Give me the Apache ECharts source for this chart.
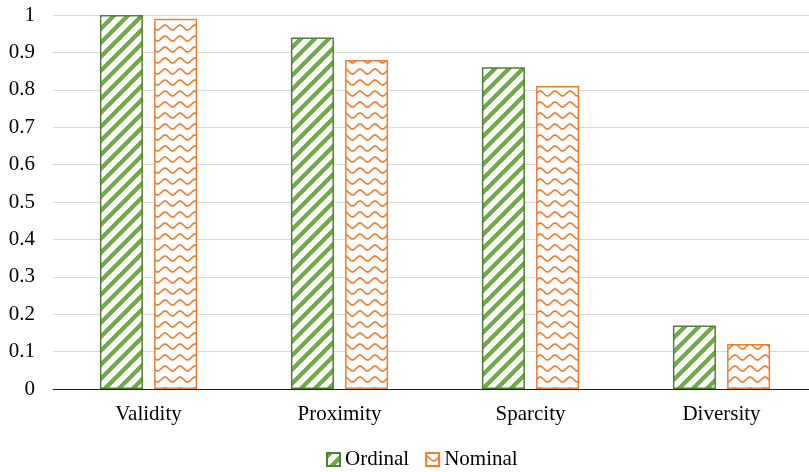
<!DOCTYPE html>
<html>
<head>
<meta charset="utf-8">
<script src="https://cdn.jsdelivr.net/npm/echarts@6/dist/echarts.min.js"></script>
<style>
  html, body { margin: 0; padding: 0; background: #fff; overflow: hidden; }
  #wrap { width: 809px; height: 472px; overflow: hidden; }
  #chart { width: 817px; height: 472px; }
</style>
</head>
<body>
<div id="wrap"><div id="chart"></div></div>
<script>
// Evaluation metrics per encoding type
const categories = ['Validity', 'Proximity', 'Sparcity', 'Diversity'];
const ordinalValues = [1.0, 0.94, 0.86, 0.17];
const nominalValues = [0.99, 0.88, 0.81, 0.12];
const yTicks = [0, 0.1, 0.2, 0.3, 0.4, 0.5, 0.6, 0.7, 0.8, 0.9, 1];

// Upward diagonal stripe fill
function stripeTile() {
  const s = 14;
  const c = document.createElement('canvas');
  c.width = s; c.height = s;
  const g = c.getContext('2d');
  g.fillStyle = '#ffffff';
  g.fillRect(0, 0, s, s);
  g.fillStyle = '#70AD47';
  for (let y = 0; y < s; y++) {
    for (let x = 0; x < s; x++) {
      if (((x + y) % s + s) % s < 6) g.fillRect(x, y, 1, 1);
    }
  }
  return c;
}

// Wavy line fill
function waveTile() {
  const w = 15, h = 11;
  const c = document.createElement('canvas');
  c.width = w; c.height = h;
  const g = c.getContext('2d');
  g.fillStyle = '#ffffff';
  g.fillRect(0, 0, w, h);
  g.strokeStyle = '#ED7D31';
  g.lineWidth = 1.7;
  g.beginPath();
  for (let x = -1; x <= w + 1; x += 0.5) {
    const y = 5.5 - 2.4 * Math.cos((2 * Math.PI * x) / w);
    if (x === -1) g.moveTo(x, y); else g.lineTo(x, y);
  }
  g.stroke();
  return c;
}

const chart = echarts.init(document.getElementById('chart'), null, { renderer: 'canvas' });
const font = 'Liberation Serif';

chart.setOption({
  animation: false,
  backgroundColor: '#ffffff',
  grid: { left: 53, top: 15, right: 0, height: 374, containLabel: false },
  legend: {
    data: ['Ordinal', 'Nominal'],
    top: 444,
    left: 321,
    itemWidth: 13,
    itemHeight: 13,
    itemGap: 16,
    icon: 'rect',
    textStyle: { fontFamily: font, fontSize: 21, color: '#000' }
  },
  xAxis: {
    type: 'category',
    data: categories,
    axisLine: { lineStyle: { color: '#222', width: 1.2 } },
    axisTick: { show: false },
    axisLabel: { fontFamily: font, fontSize: 21, color: '#000', margin: 15 }
  },
  yAxis: {
    type: 'value',
    min: 0,
    max: 1,
    interval: 0.1,
    axisLine: { show: false },
    axisTick: { show: false },
    splitLine: { lineStyle: { color: '#d9d9d9', width: 1 } },
    axisLabel: {
      fontFamily: font, fontSize: 21, color: '#000', margin: 18,
      formatter: v => {
        const t = yTicks.find(k => Math.abs(k - v) < 1e-9);
        return t === undefined ? '' : String(t);
      }
    }
  },
  series: [
    {
      name: 'Ordinal',
      type: 'bar',
      data: ordinalValues,
      barWidth: 43,
      barGap: '26%',
      itemStyle: {
        color: { image: stripeTile(), repeat: 'repeat' },
        borderColor: '#507E32',
        borderWidth: 1.5
      }
    },
    {
      name: 'Nominal',
      type: 'bar',
      data: nominalValues,
      barWidth: 43,
      itemStyle: {
        color: { image: waveTile(), repeat: 'repeat' },
        borderColor: '#ED7D31',
        borderWidth: 1.5
      }
    }
  ]
});
</script>
</body>
</html>
